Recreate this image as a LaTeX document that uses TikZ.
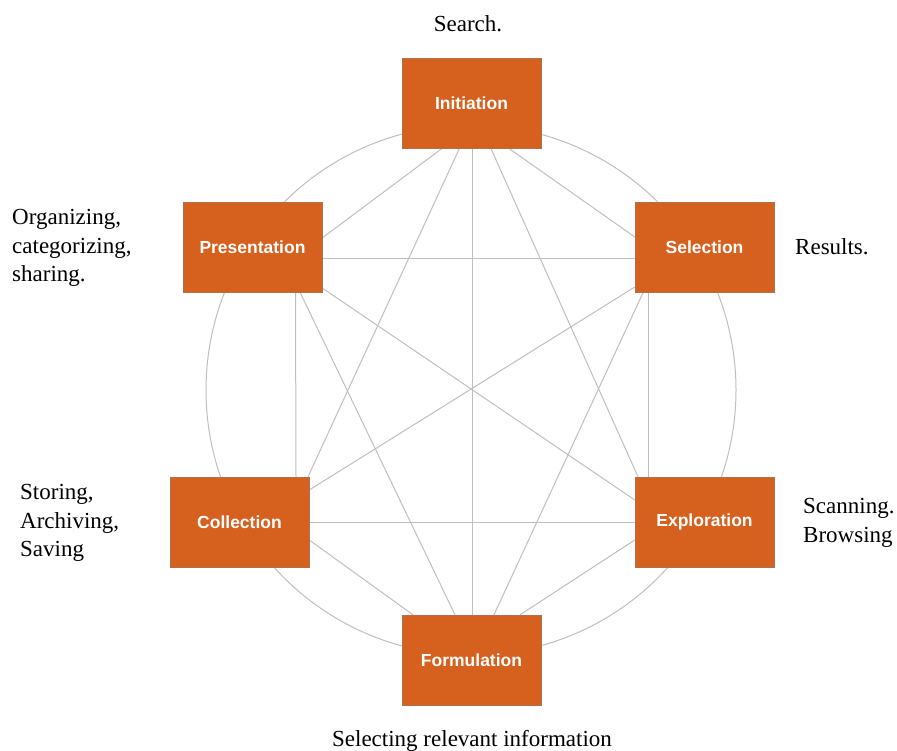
\documentclass[tikz,border=0pt]{standalone}
\usepackage{fontspec}
\setmainfont{Liberation Serif}
\newfontfamily\boxfont{Liberation Sans}
\usetikzlibrary{backgrounds}
\definecolor{boxorange}{HTML}{D6601E}
\definecolor{edgegray}{HTML}{BEBEBE}
\definecolor{boxedge}{HTML}{B07050}
\tikzset{
  stagebox/.style={rectangle, fill=boxorange, draw=boxedge, line width=0.4pt,
    minimum width=139pt, minimum height=90pt, inner sep=0pt,
    text=white, font=\boxfont\bfseries\fontsize{17.5}{21}\selectfont},
  link/.style={draw=edgegray, line width=1pt},
  ring/.style={draw=edgegray, line width=1pt},
  note/.style={inner sep=0pt, font=\fontsize{23}{28.5}\selectfont, text=black}
}
\begin{document}
\begin{tikzpicture}[x=1pt,y=-1pt]
\useasboundingbox (0,0) rectangle (897,751);

\node[stagebox] (I) at (471.5,103.5) {Initiation};
\node[stagebox] (P) at (252.5,247) {Presentation};
\node[stagebox] (S) at (704.5,247.5) {Selection};
\node[stagebox] (C) at (239.5,522) {Collection};
\node[stagebox] (E) at (704.5,522) {Exploration};
\node[stagebox] (F) at (471.5,660) {Formulation};

\begin{scope}[on background layer]
\draw[ring] (471,390) circle[radius=265pt];
\draw[link] ([xshift=-29.8pt]I.south) -- ([yshift=9pt]P.east);
\draw[link] ([xshift=-12.2pt]I.south) -- ([xshift=68.5pt]C.north);
\draw[link] ([xshift=1pt]I.south) -- ([xshift=1pt]F.north);
\draw[link] ([xshift=19.5pt]I.south) -- ([xshift=-66.5pt]E.north);
\draw[link] ([xshift=37.8pt]I.south) -- ([yshift=10.5pt]S.west);
\draw[link] ([yshift=-12pt]P.east) -- ([yshift=-11.5pt]S.west);
\draw[link] ([yshift=-41pt]P.east) -- ([yshift=22pt]E.west);
\draw[link] ([xshift=47.5pt]P.south) -- ([xshift=-16.5pt]F.north);
\draw[link] ([xshift=43pt]P.south) -- ([xshift=56.5pt]C.north);
\draw[link] ([yshift=-39.5pt]S.west) -- ([yshift=32pt]C.east);
\draw[link] ([xshift=-61.5pt]S.south) -- ([xshift=22.5pt]F.north);
\draw[link] ([xshift=-56.5pt]S.south) -- ([xshift=-56.5pt]E.north);
\draw[link] (C.east) -- (E.west);
\draw[link] ([yshift=-18pt]C.east) -- ([xshift=-58.5pt]F.north);
\draw[link] ([yshift=-18pt]E.west) -- ([xshift=48.5pt]F.north);
\end{scope}

\node[note] (tI) at (468,24) {Search.};
\node[note, anchor=west] (tS) at (795,247) {Results.};
\node[note, anchor=west, align=left] (tP) at (12,248) {Organizing,\\categorizing,\\sharing.};
\node[note, anchor=west, align=left] (tC) at (20,523) {Storing,\\Archiving,\\Saving};
\node[note, anchor=west, align=left] (tE) at (803,523) {Scanning.\\Browsing};
\node[note] (tF) at (472,741) {Selecting relevant information};
\end{tikzpicture}
\end{document}
